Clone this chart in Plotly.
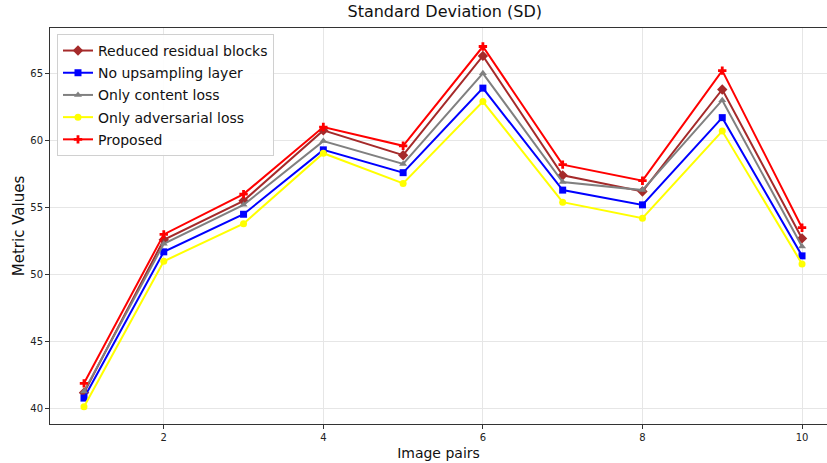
import plotly.graph_objects as go

x_pairs = [1, 2, 3, 4, 5, 6, 7, 8, 9, 10]
reduced_residual = [41.2, 52.6, 55.5, 60.75, 58.9, 66.3, 57.4, 56.2, 63.8, 52.7]
no_upsampling = [40.8, 51.7, 54.5, 59.3, 57.6, 63.9, 56.3, 55.2, 61.7, 51.4]
only_content = [41.3, 52.3, 55.2, 59.95, 58.25, 65.0, 56.9, 56.3, 63.0, 52.1]
only_adversarial = [40.15, 51.0, 53.8, 59.05, 56.8, 62.9, 55.4, 54.2, 60.7, 50.8]
proposed = [41.9, 53.0, 56.0, 61.0, 59.6, 67.0, 58.2, 57.0, 65.2, 53.5]

series = [
    ("Reduced residual blocks", reduced_residual, "#a52a2a", "diamond", 8),
    ("No upsampling layer", no_upsampling, "#0000ff", "square", 7),
    ("Only content loss", only_content, "#808080", "triangle-up", 7),
    ("Only adversarial loss", only_adversarial, "#ffff00", "circle", 7),
    ("Proposed", proposed, "#ff0000", "cross", 7),
]

fig = go.Figure()
for i, (name, vals, col, sym, sz) in enumerate(series):
    fig.add_trace(go.Scatter(
        x=x_pairs, y=vals, name=name, mode="lines+markers",
        legendgroup="g%d" % i,
        line=dict(color=col, width=2),
        marker=dict(color=col, symbol=sym, size=sz, line=dict(width=0)),
    ))

font = "DejaVu Sans, sans-serif"
fig.update_layout(
    width=827, height=463,
    margin=dict(l=50, r=0, t=28, b=39),
    paper_bgcolor="white", plot_bgcolor="white",
    font=dict(family=font, color="#222"),
    title=dict(text="Standard Deviation (SD)", x=0.508, xanchor="center", xref="paper",
               y=1, yanchor="top", yref="container", pad=dict(t=6),
               font=dict(size=16, color="#111", family=font)),
    showlegend=True,
    legend=dict(x=0.009, y=0.985, xanchor="left", yanchor="top",
                bgcolor="rgba(255,255,255,0.9)", bordercolor="#d0d0d0", borderwidth=1,
                font=dict(size=14, color="#111", family=font),
                tracegroupgap=1, itemwidth=30),
)
fig.update_xaxes(
    range=[0.574, 10.313], tickvals=[2, 4, 6, 8, 10],
    showgrid=True, gridcolor="#e6e6e6", gridwidth=1,
    showline=True, linecolor="#333", linewidth=1, mirror=True,
    ticks="outside", ticklen=4, tickcolor="#333",
    tickfont=dict(size=10, color="#222"), zeroline=False,
    title=dict(text="Image pairs", font=dict(size=14, color="#111"), standoff=6),
)
fig.update_yaxes(
    range=[38.87, 68.38], tickvals=[40, 45, 50, 55, 60, 65],
    showgrid=True, gridcolor="#e6e6e6", gridwidth=1,
    showline=True, linecolor="#333", linewidth=1,
    ticks="outside", ticklen=4, tickcolor="#333",
    tickfont=dict(size=10, color="#222"), zeroline=False,
    title=dict(text="Metric Values", font=dict(size=15, color="#111"), standoff=2),
)

fig.write_html("out.html")
